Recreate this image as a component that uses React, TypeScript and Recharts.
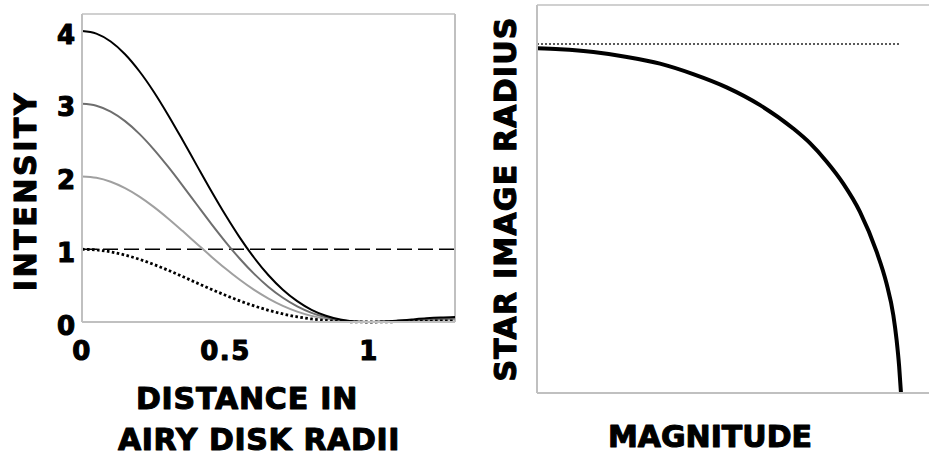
import React from 'react';
import { LineChart, Line, XAxis, YAxis, ReferenceLine } from 'recharts';

// ---------- Left panel data: intensity vs distance (Airy disk radii) ----------
const distance = [0, 0.05, 0.1, 0.15, 0.2, 0.25, 0.3, 0.35, 0.4, 0.45, 0.5, 0.55, 0.6, 0.65, 0.7, 0.75, 0.8, 0.85, 0.9, 0.95, 1, 1.05, 1.1, 1.15, 1.2, 1.25, 1.3];
const peak4 = [4, 3.964, 3.856, 3.681, 3.447, 3.166, 2.847, 2.505, 2.153, 1.804, 1.47, 1.16, 0.883, 0.643, 0.444, 0.287, 0.168, 0.086, 0.034, 0.007, 0, 0.006, 0.019, 0.035, 0.05, 0.061, 0.068];
const peak3 = [3, 2.973, 2.892, 2.761, 2.586, 2.374, 2.135, 1.879, 1.615, 1.353, 1.103, 0.87, 0.662, 0.482, 0.333, 0.215, 0.126, 0.064, 0.026, 0.006, 0, 0.004, 0.014, 0.026, 0.037, 0.046, 0.051];
const peak2 = [2, 1.982, 1.928, 1.84, 1.724, 1.583, 1.424, 1.253, 1.077, 0.902, 0.735, 0.58, 0.441, 0.322, 0.222, 0.143, 0.084, 0.043, 0.017, 0.004, 0, 0.003, 0.009, 0.017, 0.025, 0.031, 0.034];
const peak1 = [1, 0.991, 0.964, 0.92, 0.862, 0.791, 0.712, 0.626, 0.538, 0.451, 0.368, 0.29, 0.221, 0.161, 0.111, 0.072, 0.042, 0.021, 0.009, 0.002, 0, 0.001, 0.005, 0.009, 0.012, 0.015, 0.017];
const threshold = 1;
const xTicksLeft = [0, 0.5, 1];
const yTicksLeft = [0, 1, 2, 3, 4];
const xMaxLeft = 1.3;
const yMaxLeft = 4.234;

// ---------- Right panel data: star image radius vs magnitude ----------
const magnitude = [0, 0.63, 1.55, 2.47, 3.38, 4.29, 5.21, 6.13, 7.04, 7.5, 7.96, 8.41, 8.87, 9.33, 9.6, 9.79, 9.88, 9.95, 10];
const starRadius = [0.988, 0.985, 0.977, 0.963, 0.944, 0.914, 0.876, 0.825, 0.758, 0.716, 0.663, 0.601, 0.52, 0.405, 0.315, 0.223, 0.152, 0.076, 0];
const airyRadius = 1;
const magEnd = 10;
const xMaxRight = 10.77;
const yMaxRight = 1.112;

const leftData = distance.map((x, i) => ({ x, p4: peak4[i], p3: peak3[i], p2: peak2[i], p1: peak1[i] }));
const rightData = magnitude.map((m, i) => ({ m, r: starRadius[i] }));

const FONT = '"DejaVu Sans", Verdana, sans-serif';
const GRAY = '#c0c0c0';

const textStyle = {
  fontFamily: FONT,
  fontWeight: 'bold' as const,
  fill: '#000',
  stroke: '#000',
  strokeWidth: 1.1,
  strokeLinejoin: 'round' as const,
};

const YTick = (p: any) => (
  <text x={p.x} y={p.y} dy={12.5} textAnchor="end" fontSize={26} {...textStyle}>
    {p.payload.value}
  </text>
);

const XTick = (p: any) => (
  <text x={p.x} y={p.y} dy="0.71em" textAnchor="middle" fontSize={26} letterSpacing={1.5} {...textStyle}>
    {String(p.payload.value)}
  </text>
);

const Title = ({ x, y, rotate, ls, children }: any) => (
  <text
    x={x}
    y={y}
    transform={rotate ? `rotate(-90 ${x} ${y})` : undefined}
    textAnchor="middle"
    fontSize={30}
    letterSpacing={ls || 0}
    {...textStyle}
  >
    {children}
  </text>
);

const LeftXTitle = () => (
  <g>
    <Title x={247} y={409} ls={0.8}>DISTANCE IN</Title>
    <Title x={259} y={450} ls={0.6}>AIRY DISK RADII</Title>
  </g>
);
const LeftYTitle = () => (
  <Title x={36} y={191} rotate ls={2.6}>INTENSITY</Title>
);
const RightXTitle = () => (
  <Title x={250} y={447}>MAGNITUDE</Title>
);
const RightYTitle = () => (
  <Title x={56} y={199} rotate ls={1.2}>STAR IMAGE RADIUS</Title>
);

export default function App() {
  return (
    <div style={{ position: 'absolute', left: 0, top: 0, width: 929, height: 459, background: '#fff', overflow: 'hidden' }}>
      <div style={{ position: 'absolute', left: 0, top: 0 }}>
        <LineChart width={460} height={459} data={leftData} margin={{ top: 14, right: 5, bottom: 0, left: 0 }}>
          <XAxis
            dataKey="x"
            type="number"
            domain={[0, xMaxLeft]}
            ticks={xTicksLeft}
            height={137}
            tickSize={0}
            tickMargin={20}
            tickLine={false}
            axisLine={{ stroke: GRAY, strokeWidth: 2 }}
            tick={<XTick />}
            label={<LeftXTitle />}
            interval={0}
          />
          <YAxis
            type="number"
            domain={[0, yMaxLeft]}
            ticks={yTicksLeft}
            width={82}
            tickSize={0}
            tickMargin={7}
            tickLine={false}
            axisLine={{ stroke: GRAY, strokeWidth: 2 }}
            tick={<YTick />}
            label={<LeftYTitle />}
            interval={0}
          />
          <ReferenceLine y={yMaxLeft} stroke={GRAY} strokeWidth={1.5} />
          <ReferenceLine x={xMaxLeft} stroke={GRAY} strokeWidth={2} />
          <ReferenceLine y={threshold} stroke="#000" strokeWidth={1.5} strokeDasharray="15 6" />
          <Line dataKey="p2" type="monotone" stroke="#a0a0a0" strokeWidth={2} dot={false} isAnimationActive={false} />
          <Line dataKey="p3" type="monotone" stroke="#6e6e6e" strokeWidth={2} dot={false} isAnimationActive={false} />
          <Line dataKey="p4" type="monotone" stroke="#000" strokeWidth={2} dot={false} isAnimationActive={false} />
          <Line dataKey="p1" type="monotone" stroke="#000" strokeWidth={2.8} strokeDasharray="2.6 2.4" dot={false} isAnimationActive={false} />
        </LineChart>
      </div>
      <div style={{ position: 'absolute', left: 460, top: 0 }}>
        <LineChart width={469} height={459} data={rightData} margin={{ top: 5, right: 0, bottom: 0, left: 0 }}>
          <XAxis
            dataKey="m"
            type="number"
            domain={[0, xMaxRight]}
            height={66}
            tick={false}
            tickLine={false}
            axisLine={{ stroke: GRAY, strokeWidth: 2 }}
            label={<RightXTitle />}
          />
          <YAxis
            type="number"
            domain={[0, yMaxRight]}
            width={77}
            tick={false}
            tickLine={false}
            axisLine={{ stroke: GRAY, strokeWidth: 2 }}
            label={<RightYTitle />}
          />
          <ReferenceLine y={yMaxRight} stroke={GRAY} strokeWidth={1.5} />
          <ReferenceLine
            segment={[{ x: 0, y: airyRadius }, { x: magEnd, y: airyRadius }]}
            stroke="#5a5a5a"
            strokeWidth={2}
            strokeDasharray="2 2"
          />
          <Line dataKey="r" type="monotone" stroke="#000" strokeWidth={4} dot={false} isAnimationActive={false} />
        </LineChart>
      </div>
    </div>
  );
}
